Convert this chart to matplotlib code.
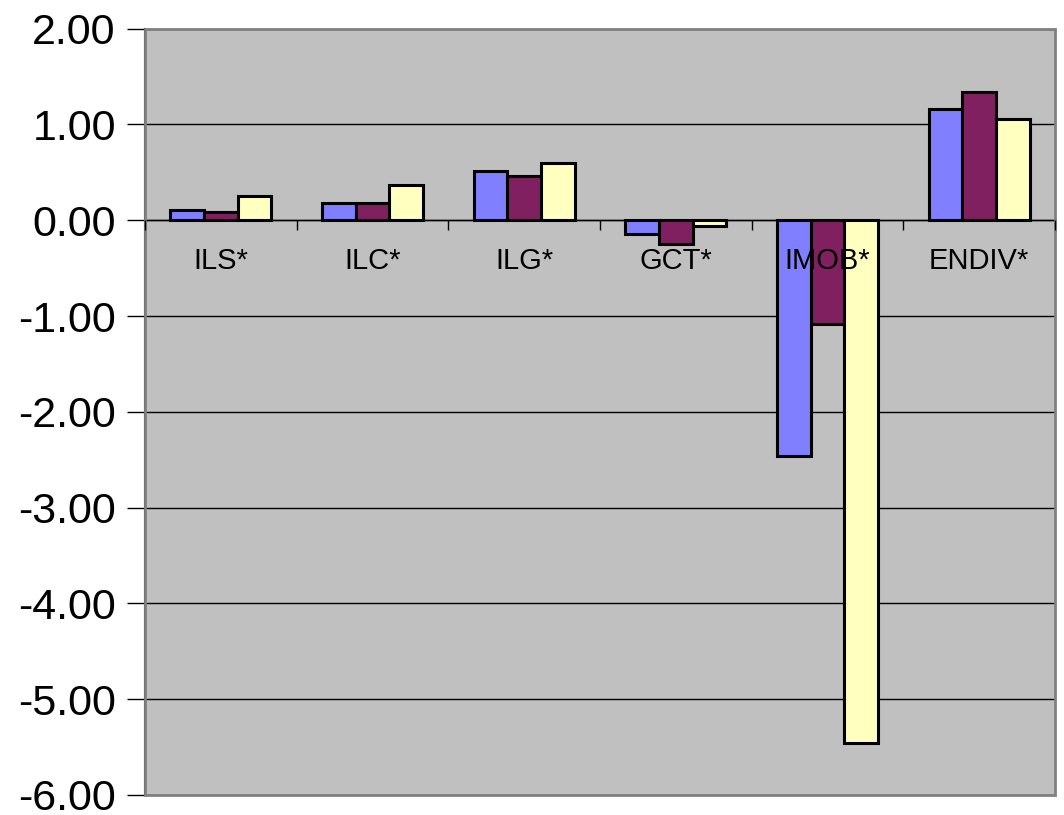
import numpy as np
import matplotlib.pyplot as plt
from matplotlib.patches import Rectangle

plt.rcParams["font.family"] = ["Liberation Sans", "DejaVu Sans"]

# data
categories = ["ILS*", "ILC*", "ILG*", "GCT*", "IMOB*", "ENDIV*"]
series_a = [0.11, 0.18, 0.51, -0.14, -2.46, 1.16]
series_b = [0.09, 0.18, 0.46, -0.25, -1.08, 1.34]
series_c = [0.25, 0.37, 0.60, -0.06, -5.46, 1.06]
yticks = [2, 1, 0, -1, -2, -3, -4, -5, -6]

colors = ["#8080FF", "#802060", "#FFFFC0"]

fig = plt.figure(figsize=(10.64, 8.15), dpi=100)
ax = fig.add_axes([145 / 1064, 1 - 795 / 815, 910 / 1064, (795 - 28.7) / 815])
ax.set_facecolor("#C0C0C0")

x = np.arange(len(categories))
w = 0.222
for i, vals in enumerate([series_a, series_b, series_c]):
    ax.bar(x + (i - 1) * w, vals, width=w, color=colors[i],
           edgecolor="black", linewidth=2.2, zorder=3)

ax.set_xlim(-0.5, len(categories) - 0.5)
ax.set_ylim(-6, 2)

# horizontal gridlines
ax.set_yticks(yticks)
ax.set_yticklabels(["%.2f" % v for v in yticks], fontsize=31)
ax.yaxis.grid(True, color="black", linewidth=1)
ax.set_axisbelow(True)
ax.tick_params(axis="y", length=13, width=1, direction="out", pad=8, colors="black")

# category axis sits at zero, labels drawn over the bars
ax.spines["bottom"].set_position(("data", 0))
ax.spines["bottom"].set_linewidth(1)
ax.spines["bottom"].set_zorder(4)
ax.xaxis.set_zorder(5)
ax.set_xticks(np.arange(len(categories) + 1) - 0.5)
ax.set_xticklabels([])
ax.set_xticks(x, minor=True)
ax.set_xticklabels(categories, minor=True, fontsize=21)
ax.tick_params(axis="x", which="major", length=7, width=1, direction="out")
ax.tick_params(axis="x", which="minor", length=0, pad=19)

for side in ["top", "right"]:
    ax.spines[side].set_visible(False)
ax.spines["left"].set_linewidth(1.5)
ax.add_patch(Rectangle((0, 0), 1, 1, transform=ax.transAxes, fill=False,
                       edgecolor="#808080", linewidth=2, zorder=5, clip_on=False))

fig.savefig("out.png", dpi=100)
